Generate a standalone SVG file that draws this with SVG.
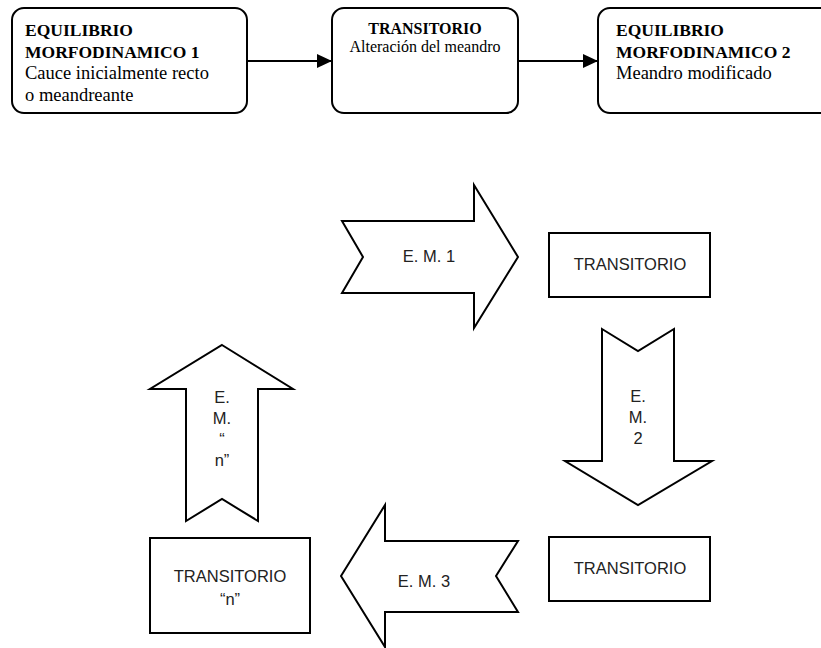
<svg xmlns="http://www.w3.org/2000/svg" width="821" height="648" viewBox="0 0 821 648">
<style>
.rbox{fill:#fff;stroke:#000;stroke-width:2}
.box{fill:#fff;stroke:#000;stroke-width:2}
.blk{fill:#fff;stroke:#000;stroke-width:2;stroke-linejoin:miter}
.tb{font-family:"Liberation Serif","Times New Roman",serif;font-weight:bold;font-size:17.5px;fill:#000}
.tr{font-family:"Liberation Serif","Times New Roman",serif;font-size:18.5px;fill:#000}
.tb2{font-family:"Liberation Serif","Times New Roman",serif;font-weight:bold;font-size:16px;fill:#000}
.tr2{font-family:"Liberation Serif","Times New Roman",serif;font-size:16px;fill:#000}
.g{font-family:"Liberation Sans",Arial,sans-serif;font-size:16.5px;fill:#222;text-anchor:middle}
.conn{stroke:#000;stroke-width:2;fill:none}
</style>
<defs>
<marker id="ah" markerWidth="15" markerHeight="14" refX="15" refY="7" orient="auto" markerUnits="userSpaceOnUse">
<path d="M0,0 L15,7 L0,14 Z" fill="#000"/>
</marker>
</defs>
<rect width="821" height="648" fill="#fff"/>

<g id="connectors">
<line class="conn" x1="247" y1="61" x2="332" y2="61" marker-end="url(#ah)"/>
<line class="conn" x1="518" y1="61" x2="598" y2="61" marker-end="url(#ah)"/>
</g>

<g id="em1-box">
<rect class="rbox" x="12" y="8" width="235" height="105" rx="12"/>
<text class="tb" x="25" y="36">EQUILIBRIO</text>
<text class="tb" x="25" y="57.5">MORFODINAMICO 1</text>
<text class="tr" x="25" y="79">Cauce inicialmente recto</text>
<text class="tr" x="25" y="100.5">o meandreante</text>
</g>

<g id="transitorio-box">
<rect class="rbox" x="332" y="8" width="186" height="105" rx="12"/>
<text class="tb2" x="425" y="33.5" text-anchor="middle">TRANSITORIO</text>
<text class="tr2" x="425" y="52" text-anchor="middle">Alteración del meandro</text>
</g>

<g id="em2-box">
<rect class="rbox" x="598" y="8" width="235" height="105" rx="12"/>
<text class="tb" x="616" y="36">EQUILIBRIO</text>
<text class="tb" x="616" y="57.5">MORFODINAMICO 2</text>
<text class="tr" x="616" y="79">Meandro modificado</text>
</g>

<g id="arrow-em1">
<polygon class="blk" points="342,221 363,257 342,293 474,293 474,328 518,257 474,185 474,221"/>
<text class="g" x="429" y="262">E. M. 1</text>
</g>

<g id="transitorio-1">
<rect class="box" x="549" y="233" width="161" height="64"/>
<text class="g" x="630" y="270">TRANSITORIO</text>
</g>

<g id="arrow-em2">
<polygon class="blk" points="602,329 638,351 674,329 674,461 712,461 638,505 565,461 602,461"/>
<text class="g" x="638" y="402">E.</text>
<text class="g" x="638" y="423">M.</text>
<text class="g" x="638" y="444">2</text>
</g>

<g id="transitorio-2">
<rect class="box" x="549" y="537" width="161" height="64"/>
<text class="g" x="630" y="574">TRANSITORIO</text>
</g>

<g id="arrow-em3">
<polygon class="blk" points="341,576 385,505 385,541 518,541 496,576 518,612 385,612 385,647"/>
<text class="g" x="424" y="587">E. M. 3</text>
</g>

<g id="transitorio-n">
<rect class="box" x="150" y="538" width="160" height="95"/>
<text class="g" x="230" y="582">TRANSITORIO</text>
<text class="g" x="230" y="605">“n”</text>
</g>

<g id="arrow-emn">
<polygon class="blk" points="222,345 293,389 258,389 258,521 222,499 186,521 186,389 150,389"/>
<text class="g" x="222" y="403">E.</text>
<text class="g" x="222" y="424">M.</text>
<text class="g" x="222" y="445">“</text>
<text class="g" x="222" y="466">n”</text>
</g>
</svg>
